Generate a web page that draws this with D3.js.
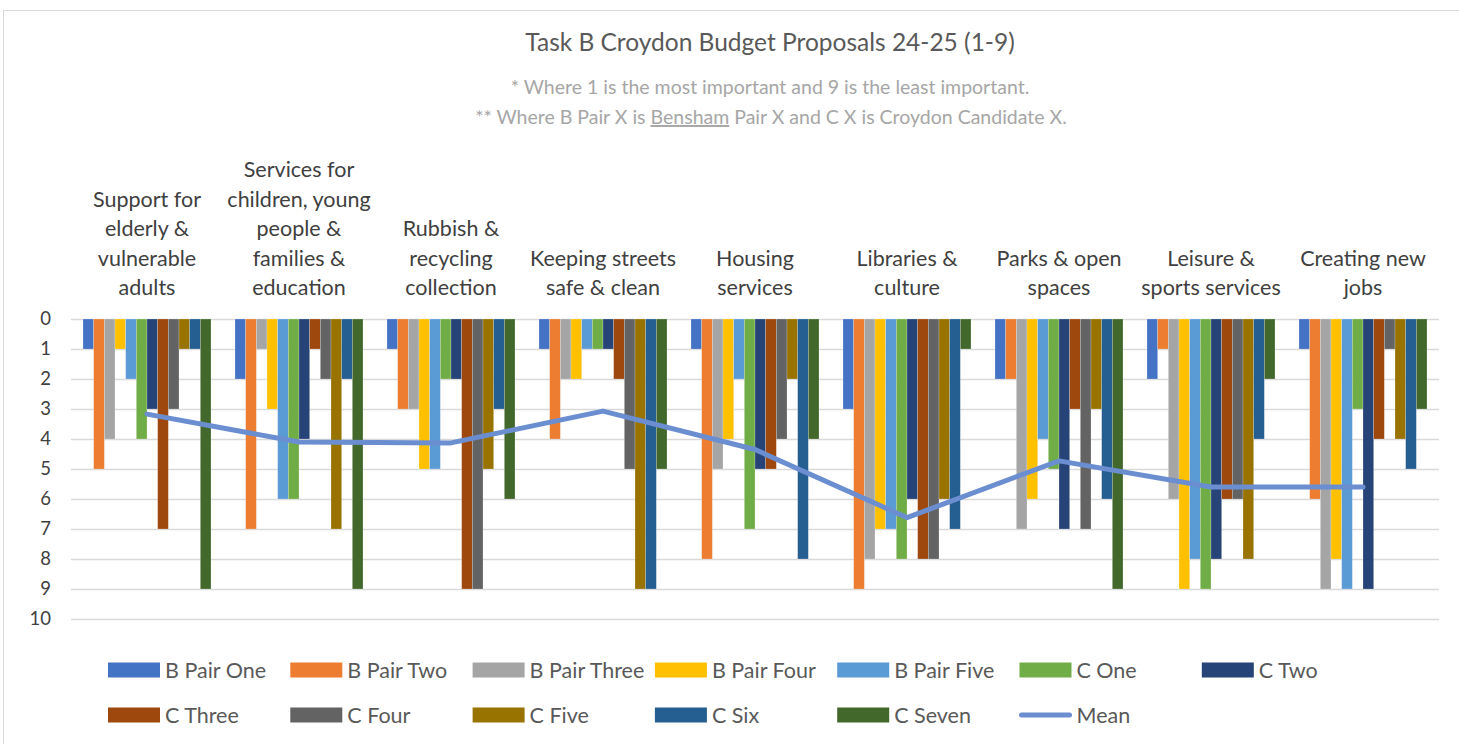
<!DOCTYPE html>
<html>
<head>
<meta charset="utf-8">
<script src="https://cdn.jsdelivr.net/npm/d3@7"></script>
<style>
  html, body { margin: 0; padding: 0; background: #fff; }
  svg { display: block; font-family: Lato, "Open Sans", sans-serif; }
</style>
</head>
<body>
<svg id="chart" width="1459" height="744"></svg>
<script>
// ---------- DATA ----------
const categories = [
  "Support for\nelderly &\nvulnerable\nadults",
  "Services for\nchildren, young\npeople &\nfamilies &\neducation",
  "Rubbish &\nrecycling\ncollection",
  "Keeping streets\nsafe & clean",
  "Housing\nservices",
  "Libraries &\nculture",
  "Parks & open\nspaces",
  "Leisure &\nsports services",
  "Creating new\njobs"
];
const seriesNames = ["B Pair One","B Pair Two","B Pair Three","B Pair Four","B Pair Five",
  "C One","C Two","C Three","C Four","C Five","C Six","C Seven"];
const bPairOne   = [1, 2, 1, 1, 1, 3, 2, 2, 1];
const bPairTwo   = [5, 7, 3, 4, 8, 9, 2, 1, 6];
const bPairThree = [4, 1, 3, 2, 5, 8, 7, 6, 9];
const bPairFour  = [1, 3, 5, 2, 4, 7, 6, 9, 8];
const bPairFive  = [2, 6, 5, 1, 2, 7, 4, 8, 9];
const cOne       = [4, 6, 2, 1, 7, 8, 5, 9, 3];
const cTwo       = [3, 4, 2, 1, 5, 6, 7, 8, 9];
const cThree     = [7, 1, 9, 2, 5, 8, 3, 6, 4];
const cFour      = [3, 2, 9, 5, 4, 8, 7, 6, 1];
const cFive      = [1, 7, 5, 9, 2, 6, 3, 8, 4];
const cSix       = [1, 2, 3, 9, 8, 7, 6, 4, 5];
const cSeven     = [9, 9, 6, 5, 4, 1, 9, 2, 3];
const meanValues = [3.17, 4.1, 4.13, 3.07, 4.35, 6.62, 4.73, 5.6, 5.6];
const yTicks = [0,1,2,3,4,5,6,7,8,9,10];
const titleText = "Task B Croydon Budget Proposals 24-25 (1-9)";
const subtitle1 = "* Where 1 is the most important and 9 is the least important.";
const subtitle2Parts = ["** Where B Pair X is ", "Bensham", " Pair X and C X is Croydon Candidate X."];

const seriesValues = [bPairOne,bPairTwo,bPairThree,bPairFour,bPairFive,cOne,cTwo,cThree,cFour,cFive,cSix,cSeven];
const colors = ["#4472C4","#ED7D31","#A5A5A5","#FFC000","#5B9BD5","#70AD47",
  "#264478","#9E480E","#636363","#997300","#255E91","#43682B"];
const meanColor = "#6A8ED0";

// ---------- LAYOUT ----------
const svg = d3.select("#chart");
const plotLeft = 71, plotRight = 1439, plotTop = 319, plotBottom = 619;

svg.append("rect").attr("x", 3.5).attr("y", 10.5).attr("width", 1470).attr("height", 800)
  .attr("fill", "#fff").attr("stroke", "#d9d9d9").attr("stroke-width", 1);

const x0 = d3.scaleBand().domain(d3.range(categories.length))
  .range([plotLeft, plotRight]).paddingInner(0.158).paddingOuter(0.079);
const x1 = d3.scaleBand().domain(d3.range(seriesNames.length))
  .range([0, x0.bandwidth()]);
const y = d3.scaleLinear().domain([0, 10]).range([plotTop, plotBottom]);
const xCenter = i => plotLeft + (plotRight - plotLeft) / categories.length * (i + 0.5);

// gridlines
const grid = svg.append("g").attr("transform", `translate(${plotLeft},0)`)
  .call(d3.axisLeft(y).tickValues(yTicks).tickSize(-(plotRight - plotLeft)).tickFormat(""));
grid.select(".domain").remove();
grid.selectAll("line").attr("stroke", "#d9d9d9").attr("stroke-width", 1.5);

// y axis labels
const yAxis = svg.append("g").attr("transform", `translate(51,0)`)
  .call(d3.axisLeft(y).tickValues(yTicks).tickSize(0).tickPadding(0).tickFormat(d3.format("d")));
yAxis.select(".domain").remove();
yAxis.selectAll("text").attr("fill", "#404040").style("font-size", "18.5px")
  .style("font-family", "Lato, sans-serif");

// bars
const groups = svg.append("g").selectAll("g").data(categories).join("g")
  .attr("transform", (d, i) => `translate(${x0(i)},0)`);
groups.selectAll("rect")
  .data((d, i) => seriesValues.map((s, j) => ({ j, v: s[i] })))
  .join("rect")
  .attr("x", d => x1(d.j))
  .attr("y", y(0))
  .attr("width", x1.bandwidth())
  .attr("height", d => y(d.v) - y(0))
  .attr("fill", d => colors[d.j])
  .attr("stroke", "#ffffff").attr("stroke-opacity", 0.35).attr("stroke-width", 0.6);

// mean line
const line = d3.line().x((d, i) => xCenter(i)).y(d => y(d));
svg.append("path").datum(meanValues).attr("d", line)
  .attr("fill", "none").attr("stroke", meanColor).attr("stroke-width", 5)
  .attr("stroke-linecap", "round").attr("stroke-linejoin", "round");

// category labels
const lineH = 29.5;
categories.forEach((c, i) => {
  const lines = c.split("\n");
  const t = svg.append("text").attr("text-anchor", "middle")
    .attr("fill", "#404040").style("font-size", "21.5px");
  lines.forEach((l, k) => {
    t.append("tspan").attr("x", xCenter(i))
      .attr("y", 295 - (lines.length - 1 - k) * lineH).text(l);
  });
});

// title
svg.append("text").attr("x", 770).attr("y", 51).attr("text-anchor", "middle")
  .attr("fill", "#595959").style("font-size", "24.5px").text(titleText);
svg.append("text").attr("x", 770).attr("y", 94).attr("text-anchor", "middle")
  .attr("fill", "#a6a6a6").style("font-size", "19.5px").text(subtitle1);
const sub2 = svg.append("text").attr("x", 771).attr("y", 124).attr("text-anchor", "middle")
  .attr("fill", "#a6a6a6").style("font-size", "19.5px");
subtitle2Parts.forEach((p, k) => {
  const ts = sub2.append("tspan").text(p);
  if (k === 1) ts.style("text-decoration", "underline");
});

// legend
const legendItems = seriesNames.map((n, j) => ({ name: n, color: colors[j], type: "bar" }))
  .concat([{ name: "Mean", color: meanColor, type: "line" }]);
const legend = svg.append("g");
legendItems.forEach((it, k) => {
  const row = k < 7 ? 0 : 1;
  const col = k < 7 ? k : k - 7;
  const lx = 108 + col * 182.3;
  const ly = row === 0 ? 670 : 715;
  if (it.type === "bar") {
    legend.append("rect").attr("x", lx).attr("y", ly - 7.5).attr("width", 52).attr("height", 15)
      .attr("fill", it.color);
  } else {
    legend.append("line").attr("x1", lx + 2).attr("x2", lx + 50).attr("y1", ly).attr("y2", ly)
      .attr("stroke", it.color).attr("stroke-width", 5).attr("stroke-linecap", "round");
  }
  legend.append("text").attr("x", lx + 57).attr("y", ly).attr("dy", "0.35em")
    .attr("fill", "#595959").style("font-size", "21.5px").text(it.name);
});
</script>
</body>
</html>
